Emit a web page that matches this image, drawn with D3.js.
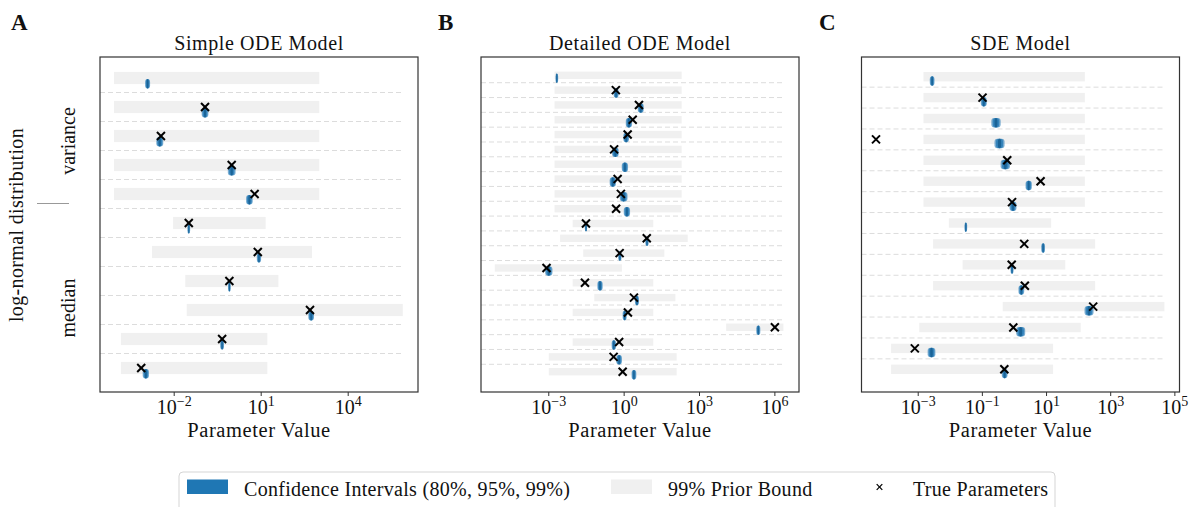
<!DOCTYPE html>
<html><head><meta charset="utf-8">
<script src="https://cdn.jsdelivr.net/npm/d3@7"></script>
<style>
body{margin:0;background:#fff}
svg text{font-family:"Liberation Serif","DejaVu Serif",serif;fill:#111}
</style></head><body>
<svg id="chart" width="1191" height="507" font-family="Liberation Serif, serif"></svg>
<script>
// All parameter values are log10 of the parameter.
// Rows run top to bottom. CI entries are half-widths [80%, 95%, 99%].

// Simple ODE model
const simplePrior = [[-4.06,3.02],[-4.06,3.02],[-4.06,3.02],[-4.06,3.02],[-4.06,3.02],
  [-2.02,1.17],[-2.75,2.77],[-1.60,1.61],[-1.55,5.90],[-3.82,1.23],[-3.82,1.23]];
const simpleTruth = [null,-0.92,-2.44,0.00,0.79,-1.48,0.90,-0.08,2.70,-0.33,-3.12];
const simpleEst = [-2.90,-0.92,-2.48,0.00,0.61,-1.48,0.94,-0.08,2.74,-0.33,-2.96];
const simpleCI = [[0.03,0.06,0.086],[0.035,0.08,0.115],[0.04,0.085,0.12],[0.04,0.09,0.133],
  [0.035,0.08,0.115],[0.015,0.03,0.047],[0.025,0.05,0.074],[0.015,0.03,0.047],
  [0.03,0.07,0.098],[0.02,0.045,0.064],[0.035,0.075,0.109]];
const simpleTicks = [-2, 1, 4];

// Detailed ODE model
const detailedPrior = [[-2.75,2.31],[-2.75,2.31],[-2.75,2.31],[-2.75,2.31],[-2.75,2.31],
  [-2.75,2.31],[-2.75,2.31],[-2.75,2.31],[-2.75,2.31],[-2.75,2.31],
  [-2.03,1.18],[-2.53,2.55],[-1.61,1.62],[-5.13,-0.07],[-2.03,1.18],[-1.17,2.06],
  [-2.03,1.18],[4.08,6.36],[-2.03,1.18],[-2.98,2.11],[-2.98,2.11]];
const detailedTruth = [null,-0.31,0.61,0.36,0.16,-0.38,null,-0.24,-0.11,-0.30,
  -1.50,0.92,-0.16,-3.07,-1.54,0.41,0.17,6.02,-0.18,-0.40,-0.04];
const detailedEst = [-2.66,-0.30,0.68,0.21,0.10,-0.33,0.05,-0.43,0.00,0.13,
  -1.50,0.93,-0.15,-2.98,-0.94,0.53,0.04,5.36,-0.39,-0.18,0.41];
const detailedCI = [[0.02,0.035,0.054],[0.03,0.07,0.10],[0.04,0.085,0.12],[0.04,0.09,0.125],
  [0.035,0.08,0.113],[0.04,0.095,0.133],[0.04,0.09,0.125],[0.04,0.09,0.125],[0.05,0.11,0.153],
  [0.04,0.09,0.125],[0.015,0.03,0.046],[0.02,0.045,0.066],[0.02,0.045,0.066],[0.045,0.10,0.145],
  [0.035,0.075,0.106],[0.025,0.055,0.08],[0.025,0.055,0.08],[0.025,0.055,0.08],
  [0.03,0.06,0.086],[0.035,0.08,0.113],[0.03,0.065,0.094]];
const detailedTicks = [-3, 0, 3, 6];

// SDE model
const sdePrior = [[-2.82,2.21],[-2.82,2.21],[-2.82,2.21],[-2.82,2.21],[-2.82,2.21],
  [-2.82,2.21],[-2.82,2.21],[-2.03,1.16],[-2.52,2.53],[-1.60,1.60],[-2.52,2.53],
  [-0.35,4.69],[-2.95,2.08],[-3.83,1.22],[-3.83,1.22]];
const sdeTruth = [null,-0.98,null,-4.30,-0.21,0.83,-0.06,null,0.32,-0.07,0.34,2.47,-0.02,-3.09,-0.30];
const sdeEst = [-2.55,-0.94,-0.56,-0.45,-0.27,0.46,-0.03,-1.50,0.91,-0.06,0.23,2.34,0.21,-2.57,-0.29];
const sdeCI = [[0.025,0.05,0.073],[0.03,0.065,0.093],[0.045,0.10,0.145],[0.05,0.11,0.156],
  [0.045,0.10,0.145],[0.03,0.07,0.098],[0.035,0.075,0.109],[0.015,0.03,0.042],
  [0.02,0.04,0.058],[0.015,0.033,0.047],[0.03,0.06,0.089],[0.045,0.10,0.14],
  [0.045,0.10,0.14],[0.04,0.085,0.12],[0.03,0.06,0.089]];
const sdeTicks = [-3, -1, 1, 3, 5];

const panelTitles = ["Simple ODE Model", "Detailed ODE Model", "SDE Model"];
const panelLetters = ["A", "B", "C"];
const legendLabels = ["Confidence Intervals (80%, 95%, 99%)", "99% Prior Bound", "True Parameters"];

const BLUE = "#1f77b4";
const svg = d3.select("#chart");
const plotTop = 57, plotBottom = 392, plotWidth = 318;

const panels = [
  {prior: simplePrior, truth: simpleTruth, est: simpleEst, ci: simpleCI, ticks: simpleTicks,
   left: 100, xDom: [-4.541, 6.424], yDom: [-0.724, 10.828], bar: 0.42},
  {prior: detailedPrior, truth: detailedTruth, est: detailedEst, ci: detailedCI, ticks: detailedTicks,
   left: 481, xDom: [-5.678, 6.98], yDom: [-1.235, 21.37], bar: 0.5},
  {prior: sdePrior, truth: sdeTruth, est: sdeEst, ci: sdeCI, ticks: sdeTicks,
   left: 861.5, xDom: [-4.752, 5.16], yDom: [-0.943, 15.086], bar: 0.45}
];

const p10 = v => Math.pow(10, v);

panels.forEach((p, k) => {
  const x = d3.scaleLog().domain(p.xDom.map(p10)).range([p.left, p.left + plotWidth]);
  const y = d3.scaleLinear().domain(p.yDom).range([plotTop, plotBottom]);
  const step = y(1) - y(0);
  const g = svg.append("g");
  const n = p.prior.length;
  const maxHi = d3.max(p.prior, d => d[1]);

  // row separators
  g.selectAll("line.sep").data(d3.range(n - 1)).join("line")
    .attr("x1", p.left).attr("x2", x(p10(maxHi)))
    .attr("y1", i => y(i + 0.5)).attr("y2", i => y(i + 0.5))
    .attr("stroke", "#dcdcdc").attr("stroke-width", 1).attr("stroke-dasharray", "5,3");

  // prior bounds
  g.selectAll("rect.prior").data(p.prior).join("rect")
    .attr("x", d => x(p10(d[0]))).attr("width", d => x(p10(d[1])) - x(p10(d[0])))
    .attr("y", (d, i) => y(i) - step * p.bar / 2).attr("height", step * p.bar)
    .attr("fill", "#f0f0f0");

  // confidence intervals: 99%, 95%, 80% stacked
  const blobH = 9.5, off = step * 0.2;
  const levels = [{j: 2, fill: BLUE, op: 0.6}, {j: 1, fill: BLUE, op: 0.75}, {j: 0, fill: "#175f92", op: 0.9}];
  levels.forEach(L => {
    g.selectAll("rect.ci" + L.j).data(p.est).join("rect")
      .each(function(e, i) {
        const h = p.ci[i][L.j];
        const x0 = x(p10(e - h)), x1 = x(p10(e + h));
        const w = Math.max(x1 - x0, 1);
        d3.select(this).attr("x", x0).attr("width", w)
          .attr("y", y(i) + off - blobH / 2).attr("height", blobH)
          .attr("rx", Math.min(3, w / 2)).attr("ry", 3)
          .attr("fill", L.fill).attr("fill-opacity", L.op);
      });
  });

  // true parameters
  const tv = p.truth.map((t, i) => ({t, i})).filter(d => d.t !== null);
  const xs = 4;
  const cross = g.selectAll("g.truth").data(tv).join("g")
    .attr("transform", d => `translate(${x(p10(d.t))},${y(d.i)})`);
  cross.append("line").attr("x1", -xs).attr("y1", -xs).attr("x2", xs).attr("y2", xs);
  cross.append("line").attr("x1", -xs).attr("y1", xs).attr("x2", xs).attr("y2", -xs);
  cross.selectAll("line").attr("stroke", "#000").attr("stroke-width", 2);

  // frame
  g.append("rect").attr("x", p.left).attr("y", plotTop).attr("width", plotWidth).attr("height", plotBottom - plotTop)
    .attr("fill", "none").attr("stroke", "#333").attr("stroke-width", 1.2);

  // x axis
  const ax = g.append("g").attr("transform", `translate(0,${plotBottom})`)
    .call(d3.axisBottom(x).tickValues(p.ticks.map(p10)).tickSize(4).tickPadding(6).tickFormat(""));
  ax.select(".domain").remove();
  ax.selectAll(".tick line").attr("stroke", "#333").attr("stroke-width", 1);
  ax.selectAll(".tick").each(function(v) {
    const e = Math.round(Math.log10(v));
    const t = d3.select(this).append("text").attr("y", 22).attr("text-anchor", "middle")
      .attr("font-size", 20).attr("fill", "#111");
    t.append("tspan").text("10");
    t.append("tspan").attr("dy", -8).attr("font-size", 14).text(e < 0 ? "\u2212" + (-e) : String(e));
  });

  g.append("text").attr("x", p.left + plotWidth / 2).attr("y", 437).attr("text-anchor", "middle")
    .attr("font-size", 20.5).attr("letter-spacing", 0.6).text("Parameter Value");
  g.append("text").attr("x", p.left + plotWidth / 2).attr("y", 50).attr("text-anchor", "middle")
    .attr("font-size", 20).attr("letter-spacing", 0.6).text(panelTitles[k]);
  g.append("text").attr("x", [11, 438, 819][k]).attr("y", 30)
    .attr("font-size", 23).attr("font-weight", "bold").text(panelLetters[k]);
});

// group labels for panel A
svg.append("text").attr("transform", "translate(23,225) rotate(-90)").attr("text-anchor", "middle")
  .attr("font-size", 20).attr("letter-spacing", 0.35).text("log-normal distribution");
svg.append("text").attr("transform", "translate(75,141) rotate(-90)").attr("text-anchor", "middle")
  .attr("font-size", 20).text("variance");
svg.append("text").attr("transform", "translate(75,308) rotate(-90)").attr("text-anchor", "middle")
  .attr("font-size", 20).text("median");
svg.append("line").attr("x1", 37).attr("x2", 69).attr("y1", 203.5).attr("y2", 203.5)
  .attr("stroke", "#999").attr("stroke-width", 1);

// legend
const lg = svg.append("g");
lg.append("rect").attr("x", 179).attr("y", 472).attr("width", 876).attr("height", 40).attr("rx", 4)
  .attr("fill", "#fff").attr("stroke", "#d5d5d5").attr("stroke-width", 1);
lg.append("rect").attr("x", 187).attr("y", 479.5).attr("width", 41).attr("height", 14.5).attr("fill", BLUE);
lg.append("text").attr("x", 244).attr("y", 496).attr("font-size", 20).attr("letter-spacing", 0.3).text(legendLabels[0]);
lg.append("rect").attr("x", 611).attr("y", 479.5).attr("width", 41).attr("height", 14.5).attr("fill", "#f0f0f0");
lg.append("text").attr("x", 668).attr("y", 496).attr("font-size", 20).attr("letter-spacing", 0.3).text(legendLabels[1]);
const lx = lg.append("g").attr("transform", "translate(879.5,487)");
lx.append("line").attr("x1", -2.8).attr("y1", -2.8).attr("x2", 2.8).attr("y2", 2.8);
lx.append("line").attr("x1", -2.8).attr("y1", 2.8).attr("x2", 2.8).attr("y2", -2.8);
lx.selectAll("line").attr("stroke", "#000").attr("stroke-width", 1.2);
lg.append("text").attr("x", 913).attr("y", 496).attr("font-size", 20).attr("letter-spacing", 0.3).text(legendLabels[2]);
</script>
</body></html>
